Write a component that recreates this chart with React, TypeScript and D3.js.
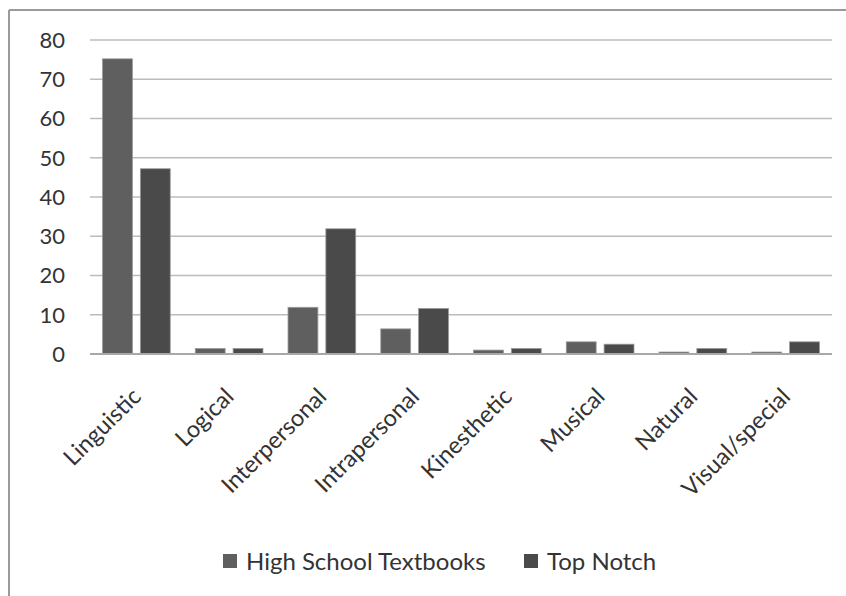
import React from "react";
import * as d3 from "d3";

const categories = ["Linguistic", "Logical", "Interpersonal", "Intrapersonal", "Kinesthetic", "Musical", "Natural", "Visual/special"];
const seriesNames = ["High School Textbooks", "Top Notch"];
const highSchool = [75.2, 1.4, 11.9, 6.4, 1.0, 3.1, 0.5, 0.5];
const topNotch = [47.2, 1.4, 31.9, 11.6, 1.4, 2.5, 1.4, 3.1];
const yTicks = [0, 10, 20, 30, 40, 50, 60, 70, 80];
const colors = ["#5f5f5f", "#4a4a4a"];

export default function App() {
  const W = 846, H = 596;
  const left = 90, right = 832, top = 40, bottom = 354;
  const y = d3.scaleLinear().domain([0, 80]).range([bottom, top]);
  const x0 = d3.scaleBand<string>().domain(categories).range([left, right]).paddingInner(0.27).paddingOuter(0.135);
  const x1 = d3.scaleBand<string>().domain(seriesNames).range([0, x0.bandwidth()]).paddingInner(0.21);
  const data = [highSchool, topNotch];
  const font = "Lato, 'Open Sans', sans-serif";
  return (
    <svg width={W} height={H} style={{ position: "absolute", left: 0, top: 0, background: "#fff" }}>
      <rect x={0} y={0} width={W} height={H} fill="#fff" />
      <line x1={9} y1={10} x2={W} y2={10} stroke="#9a9a9a" strokeWidth={2} />
      <line x1={9} y1={10} x2={9} y2={H} stroke="#9a9a9a" strokeWidth={2} />
      {yTicks.map((t) => (
        <g key={t}>
          {t > 0 && <line x1={left} x2={right} y1={y(t)} y2={y(t)} stroke="#bcbcbc" strokeWidth={1.6} />}
          <text x={65} y={y(t)} dy="0.36em" textAnchor="end" fontFamily={font} fontSize={22} fill="#333">{t}</text>
        </g>
      ))}
      {categories.map((c, i) => (
        <g key={c}>
          {seriesNames.map((s, j) => {
            const v = data[j][i];
            const bx = (x0(c) as number) + (x1(s) as number);
            return (
              <rect key={s} x={bx} y={y(v)} width={x1.bandwidth()} height={y(0) - y(v)}
                fill={colors[j]} stroke="#9a9a9a" strokeWidth={0.8} />
            );
          })}
        </g>
      ))}
      <line x1={left} x2={right} y1={y(0)} y2={y(0)} stroke="#a8a8a8" strokeWidth={2} />
      {categories.map((c) => {
        const cx = (x0(c) as number) + x0.bandwidth() / 2 + 6;
        const cy = bottom + 44;
        return (
          <text key={c} x={cx} y={cy} textAnchor="end" fontFamily={font} fontSize={23.5} fill="#333"
            transform={`rotate(-45, ${cx}, ${cy})`}>{c}</text>
        );
      })}
      {seriesNames.map((s, j) => {
        const lx = j === 0 ? 223 : 524;
        return (
          <g key={s}>
            <rect x={lx} y={554} width={14} height={14} fill={colors[j]} />
            <text x={lx + 23} y={561} dy="0.36em" fontFamily={font} fontSize={24} fill="#333">{s}</text>
          </g>
        );
      })}
    </svg>
  );
}
